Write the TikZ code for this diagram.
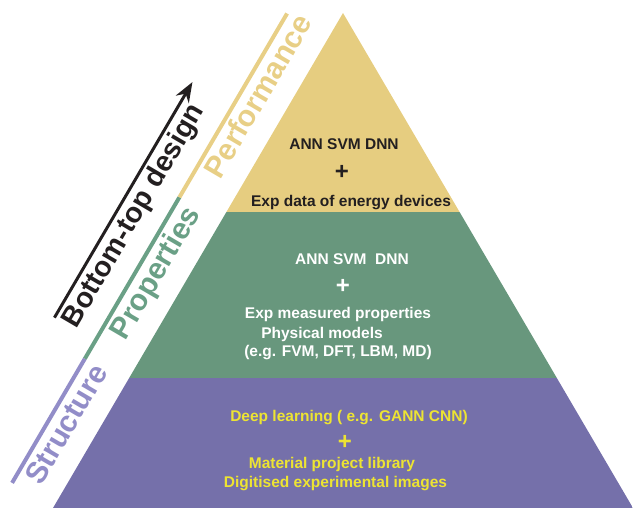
\documentclass[tikz,border=0pt]{standalone}
\usepackage{fontspec}
\setmainfont{Liberation Sans}
\usetikzlibrary{arrows.meta}
\definecolor{perf}{HTML}{E6CD80}
\definecolor{prop}{HTML}{68977D}
\definecolor{struc}{HTML}{7570AA}
\definecolor{perfline}{HTML}{E8CF86}
\definecolor{propline}{HTML}{6AA086}
\definecolor{strucline}{HTML}{928DC8}
\definecolor{ink}{HTML}{231F20}
\definecolor{lemon}{HTML}{EDE432}

\begin{document}
\begin{tikzpicture}[x=1pt,y=-1pt,
        side/.style={font=\bfseries\fontsize{30}{30}\selectfont,rotate=59.63,anchor=base west,inner sep=0pt},
        body/.style={font=\bfseries\fontsize{15.5}{19}\selectfont,anchor=base,inner sep=0pt},
        plus/.style={font=\bfseries\fontsize{24}{24}\selectfont,inner sep=0pt}]
        \useasboundingbox (0,0) rectangle (633,508);
        \scope
            \clip (343,13) -- (633,508) -- (53,508) -- cycle;
            \foreach \t/\b/\c in {0/212/perf,212/378/prop,378/508/struc} {
                \fill[\c] (0,\t) rectangle (633,\b);
            }
        \endscope
        % along the left edge: x runs up the edge, y points away from it
        \scope[shift={(53,508)},x={(0.5055pt,0.8628pt)},y={(-0.8628pt,0.5055pt)}]
            \foreach \a/\b/\s/\c/\l in {1/145/12/strucline/Structure,145/332/180/propline/Properties,332/545/367/perfline/Performance} {
                \draw[\c,line width=4pt] (\a,48) -- (\b,48);
                \node[side,text=\c] (\l) at (\s,21) {\l};
            }
            \coordinate (low) at (165,95);
            \coordinate (high) at (438,95);
            \draw[ink,line width=3pt,-{Stealth[length=20pt,width=15pt]}] (low) -- (high);
            \node[side,text=ink,font=\bfseries\fontsize{28.5}{30}\selectfont] (design) at (166,70) {Bottom-top design};
        \endscope
        \node[body,text=ink] (perfA) at (344,149.5) {ANN SVM DNN};
        \node[plus,text=ink] (perfB) at (342,172) {+};
        \node[body,text=ink] (perfC) at (351,207) {Exp data of energy devices};
        \node[body,text=white] (propA) at (352,265) {ANN SVM\ \ DNN};
        \node[plus,text=white] (propB) at (343,286) {+};
        \node[body,text=white] (propC) at (338,319) {Exp measured properties};
        \node[body,text=white] (propD) at (322,338) {Physical models};
        \node[body,text=white] (propE) at (338,357) {(e.g. FVM, DFT, LBM, MD)};
        \node[body,text=lemon] (strucA) at (349,421) {Deep learning ( e.g. GANN CNN)};
        \node[plus,text=lemon] (strucB) at (345,442) {+};
        \node[body,text=lemon] (strucC) at (332,468) {Material project library};
        \node[body,text=lemon] (strucD) at (335.5,487) {Digitised experimental images};
\end{tikzpicture}
\end{document}
